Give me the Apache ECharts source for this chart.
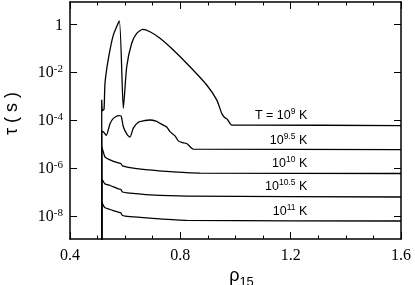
<!DOCTYPE html>
<html><head><meta charset="utf-8">
<script src="https://cdn.jsdelivr.net/npm/echarts@6/dist/echarts.min.js"></script>
<style>html,body{margin:0;padding:0;background:#fff}#c{width:415px;height:285px}</style>
</head><body><div id="c"></div>
<script>
// density rho_15 and log10(tau/s) for each temperature
const rho_T9 = [0.515,0.515,0.5175,0.5233,0.5269,0.5389,0.557,0.5788,0.5933,0.6056,0.6237,0.6418,0.6636,0.690,0.7263,0.7745,0.8351,0.8956,0.9319,0.950,0.9595,0.9703,0.9863,1.05,1.6];
const logTau_T9 = [-12,-3.15,-3.6,-3.55,-2.45,-1.45,-0.45,0.14,-3.5,-1.77,-0.79,-0.375,-0.21,-0.31,-0.58,-1.07,-1.77,-2.53,-3.15,-3.71,-3.875,-3.96,-4.2,-4.2,-4.22];
const rho_T95 = [0.515,0.515,0.5207,0.5316,0.545,0.557,0.5751,0.5849,0.5933,0.6078,0.6175,0.6295,0.6476,0.6719,0.690,0.7143,0.7263,0.7506,0.7626,0.7807,0.7927,0.805,0.8231,0.8413,0.8471,1.6];
const logTau_T95 = [-12,-4.45,-4.475,-4.63,-4.15,-3.92,-3.81,-3.82,-4.27,-4.61,-4.7,-4.33,-4.08,-4.01,-3.99,-4.05,-4.13,-4.28,-4.475,-4.65,-4.86,-4.925,-4.97,-5.17,-5.2,-5.22];
const rho_T10 = [0.515,0.515,0.5207,0.5269,0.545,0.5751,0.5838,0.5903,0.6175,0.6658,0.7143,0.7745,0.8714,1.6];
const logTau_T10 = [-12,-5.11,-5.32,-5.53,-5.65,-5.78,-5.8,-5.9,-5.97,-6.05,-6.1,-6.15,-6.2,-6.22];
const rho_T105 = [0.515,0.515,0.5207,0.5269,0.545,0.5751,0.5838,0.5903,0.6175,0.690,0.8231,1.6];
const logTau_T105 = [-12,-6.45,-6.55,-6.65,-6.72,-6.86,-6.88,-6.99,-7.04,-7.11,-7.16,-7.2];
const rho_T11 = [0.515,0.515,0.5207,0.5269,0.545,0.5751,0.5838,0.5903,0.6175,0.690,0.8231,1.6];
const logTau_T11 = [-12,-7.4,-7.55,-7.65,-7.72,-7.83,-7.86,-7.97,-8.02,-8.08,-8.17,-8.2];

const xTicks = [0.4, 0.8, 1.2, 1.6];
const yTickExps = [-8, -6, -4, -2, 0];
const tempLabels = [
  ['T = 10','9',' K'], ['10','9.5',' K'], ['10','10',' K'], ['10','10.5',' K'], ['10','11',' K']
];
const labelRho = [1.262, 1.262, 1.262, 1.262, 1.262];
const labelLogTau = [-3.78, -4.82, -5.8, -6.76, -7.78];

const rhos = [rho_T9, rho_T95, rho_T10, rho_T105, rho_T11];
const taus = [logTau_T9, logTau_T95, logTau_T10, logTau_T105, logTau_T11];

const chart = echarts.init(document.getElementById('c'), null, {renderer:'canvas'});
const serif = 'Liberation Serif';
const sans = 'Liberation Sans';

const series = rhos.map((r, i) => ({
  type: 'line',
  data: r.map((x, j) => [x, taus[i][j]]),
  showSymbol: false,
  symbol: 'none',
  smooth: 0.2,
  lineStyle: {color: '#000', width: 1.3},
  clip: true,
  silent: true,
  markPoint: {
    symbol: 'circle',
    symbolSize: 1,
    itemStyle: {color: 'rgba(0,0,0,0)'},
    silent: true,
    data: [{
      coord: [labelRho[i], labelLogTau[i]],
      label: {
        show: true,
        position: 'left',
        distance: 0,
        formatter: '{a|' + tempLabels[i][0] + '}{s|' + tempLabels[i][1] + '}{a|' + tempLabels[i][2] + '}',
        rich: {
          a: {fontFamily: sans, fontSize: 12.5, color: '#000', verticalAlign: 'bottom', lineHeight: 14},
          s: {fontFamily: sans, fontSize: 8.5, color: '#000', verticalAlign: 'bottom', lineHeight: 14, padding: [0,0,6,0]}
        }
      }
    }]
  }
}));

const xCommon = {
  type: 'value', min: 0.4, max: 1.6, interval: 0.4,
  splitLine: {show: false},
  axisLine: {show: true, onZero: false, lineStyle: {color: '#000', width: 1.5}},
  axisTick: {show: true, inside: true, length: 7, lineStyle: {color: '#000', width: 1}},
  minorTick: {show: true, splitNumber: 4, length: 3.5, lineStyle: {color: '#000', width: 1}},
  minorSplitLine: {show: false}
};
const yCommon = {
  type: 'value', min: -8.95, max: 0.93,
  splitLine: {show: false},
  axisLine: {show: true, onZero: false, lineStyle: {color: '#000', width: 1.5}},
  axisTick: {show: true, inside: true, length: 7, customValues: yTickExps, lineStyle: {color: '#000', width: 1}}
};

chart.setOption({
  animation: false,
  backgroundColor: '#fff',
  grid: {left: 70, right: 14, top: 2, bottom: 46, containLabel: false, outerBoundsMode: 'none'},
  xAxis: [
    Object.assign({}, xCommon, {
      position: 'bottom',
      name: '{r|ρ}{s|15}',
      nameLocation: 'middle',
      nameMoveOverlap: false,
      nameGap: 26,
      nameTextStyle: {
        padding: [0, 0, 0, 12],
        rich: {
          r: {fontFamily: sans, fontSize: 18, color: '#000', verticalAlign: 'bottom', lineHeight: 20},
          s: {fontFamily: sans, fontSize: 13, color: '#000', verticalAlign: 'bottom', lineHeight: 20, padding: [0,0,-4,0]}
        }
      },
      axisLabel: {show: true, margin: 9, fontFamily: serif, fontSize: 16, color: '#000',
        formatter: v => (Math.abs(v - 1.6) < 1e-6 || xTicks.some(t => Math.abs(t - v) < 1e-6)) ? String(Math.round(v*10)/10) : ''}
    }),
    Object.assign({}, xCommon, {position: 'top', axisLabel: {show: false}})
  ],
  yAxis: [
    Object.assign({}, yCommon, {
      position: 'left',
      name: 'τ ( s )',
      nameLocation: 'middle',
      nameMoveOverlap: false,
      nameGap: 49,
      nameRotate: 90,
      nameTextStyle: {fontFamily: sans, fontSize: 18, color: '#000', padding: [0, 0, 0, 14]},
      axisLabel: {
        show: true, margin: 7, customValues: yTickExps, color: '#000',
        formatter: v => v === 0 ? '{b|1}' : '{b|10}{s|' + v + '}',
        rich: {
          b: {fontFamily: serif, fontSize: 16, color: '#000', verticalAlign: 'bottom', lineHeight: 18},
          s: {fontFamily: serif, fontSize: 11, color: '#000', verticalAlign: 'bottom', lineHeight: 18, padding: [0,0,7,0]}
        }
      }
    }),
    Object.assign({}, yCommon, {position: 'right', axisLabel: {show: false}})
  ],
  series: series
});
</script>
</body></html>
